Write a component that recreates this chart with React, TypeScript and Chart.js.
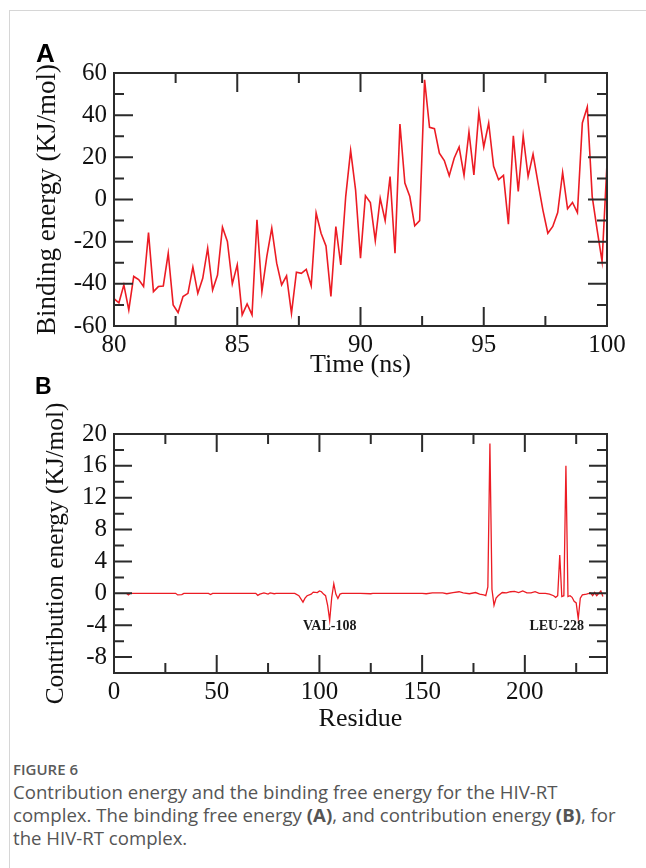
import React, { useEffect, useRef } from "react";
import { Chart, registerables } from "chart.js";

Chart.register(...registerables);

// ---------- Panel A: binding energy vs time ----------
const timeNs = [
  80.0, 80.2, 80.4, 80.6, 80.8, 81.0, 81.2, 81.4, 81.6, 81.8,
  82.0, 82.2, 82.4, 82.6, 82.8, 83.0, 83.2, 83.4, 83.6, 83.8,
  84.0, 84.2, 84.4, 84.6, 84.8, 85.0, 85.2, 85.4, 85.6, 85.8,
  86.0, 86.2, 86.4, 86.6, 86.8, 87.0, 87.2, 87.4, 87.6, 87.8,
  88.0, 88.2, 88.4, 88.6, 88.8, 89.0, 89.2, 89.4, 89.6, 89.8,
  90.0, 90.2, 90.4, 90.6, 90.8, 91.0, 91.2, 91.4, 91.6, 91.8,
  92.0, 92.2, 92.4, 92.6, 92.8, 93.0, 93.2, 93.4, 93.6, 93.8,
  94.0, 94.2, 94.4, 94.6, 94.8, 95.0, 95.2, 95.4, 95.6, 95.8,
  96.0, 96.2, 96.4, 96.6, 96.8, 97.0, 97.2, 97.4, 97.6, 97.8,
  98.0, 98.2, 98.4, 98.6, 98.8, 99.0, 99.2, 99.4, 99.6, 99.8,
  100.0,
];
const bindingEnergy = [
  -47, -49, -40.5, -52.4, -36.5, -38, -41.3, -15.7, -43.7, -41.3,
  -41, -25.5, -50, -53.6, -46, -44.5, -32.1, -44.5, -37.4, -23.1,
  -42.9, -35.8, -13.1, -19.9, -40, -31, -54.7, -49.5, -54.7, -9.6,
  -43.7, -27, -13.6, -30.2, -40.5, -36.2, -54, -34.5, -35, -33.1,
  -40.9, -6.4, -16, -22, -46, -12.8, -31, 1.4, 23.3, 4.6,
  -27.8, 1.8, -1.4, -19.5, 0.6, -10, 10.9, -25.5, 35.8, 7.8,
  1.4, -12.5, -10, 56.8, 34.2, 33.6, 22, 18.5, 11.3, 19.6,
  24.9, 11.4, 32, 11.7, 41.3, 24.9, 36.3, 15.7, 9.4, 11.4,
  -11.7, 30.2, 3.8, 30.2, 10.9, 21.5, 8, -5, -16, -12.8,
  -6.2, 12.8, -4.4, -1.4, -6.2, 36.3, 43.9, 1.4, -14.4, -29.4,
  17,
];
const xTicksA = [80, 85, 90, 95, 100];
const xMinorA = [82.5, 87.5, 92.5, 97.5];
const yTicksA = [-60, -40, -20, 0, 20, 40, 60];
const yMinorA = [-50, -30, -10, 10, 30, 50];

// ---------- Panel B: per-residue contribution energy ----------
const residues = [
  6, 7, 8, 30, 31, 33, 34, 46, 47, 48,
  69, 70, 71, 73, 75, 76, 78, 79, 88, 90,
  92, 93, 94, 96, 97, 99, 100, 101, 102, 103,
  104, 105, 106, 107, 108, 109, 110, 111, 120, 125,
  126, 140, 150, 152, 155, 160, 162, 165, 168, 170,
  173, 176, 178, 180, 181, 182, 183, 184, 185, 186,
  187, 189, 191, 193, 195, 197, 199, 201, 203, 205,
  207, 210, 212, 214, 215, 216, 217, 218, 219, 220,
  221, 222, 223, 224, 225, 226, 227, 228, 230, 232,
  233, 234, 235, 236, 237, 238,
];
const contribution = [
  0, -0.2, 0, 0, -0.2, -0.15, 0, 0, -0.15, 0,
  0, -0.25, -0.1, 0.05, -0.1, 0.05, -0.05, 0, 0, -0.3,
  -1.1, -0.6, -0.3, -0.1, 0.15, 0.1, 0.3, 0.2, -0.1, -0.3,
  -1.5, -3.4, -0.5, 1.2, -0.1, -0.65, -0.1, 0, 0, -0.05,
  0, 0, 0, -0.05, 0.05, 0.05, -0.05, 0.1, 0.2, 0.05,
  -0.05, 0.1, -0.1, -0.2, -0.3, 0.8, 18.8, 0.5, -1.5, -0.6,
  -0.3, 0.1, 0.05, 0.2, 0.25, 0.1, 0.3, 0.05, 0.05, 0.2,
  0, 0, -0.1, -0.3, -0.5, -0.3, 4.8, -0.4, -0.3, 16,
  -0.4, -0.3, -0.5, -1.0, -1.2, -3.2, -0.6, -0.2, -0.1, 0.05,
  -0.3, 0.1, -0.3, 0, 0.3, -0.4,
];
const xTicksB = [0, 50, 100, 150, 200];
const xMinorB = [25, 75, 125, 175, 225];
const yTicksB = [-8, -4, 0, 4, 8, 12, 16, 20];
const yMinorB = [-6, -2, 2, 6, 10, 14, 18];
const residueLabels = ["VAL-108", "LEU-228"];
const residueLabelX = [105, 215.5];
const residueLabelY = [-4.2, -4.2];

const SERIF = "'Liberation Serif', 'Times New Roman', serif";
const RED = "#ec1c24";
const INK = "#111111";

type FrameCfg = {
  xMajor: number[];
  xMinor: number[];
  yMajor: number[];
  yMinor: number[];
  major: number;
  minor: number;
  labels?: string[];
  labelX?: number[];
  labelY?: number[];
};

function makeFramePlugin(cfg: FrameCfg) {
  return {
    id: "frameTicks",
    afterDatasetsDraw(chart: any) {
      const { ctx, chartArea: a } = chart;
      const xs = chart.scales.x;
      const ys = chart.scales.y;
      ctx.save();
      ctx.strokeStyle = "#2b2b2b";
      ctx.lineWidth = 2;
      ctx.beginPath();
      const vx = (vals: number[], len: number) =>
        vals.forEach((v) => {
          const p = xs.getPixelForValue(v);
          ctx.moveTo(p, a.bottom);
          ctx.lineTo(p, a.bottom - len);
          ctx.moveTo(p, a.top);
          ctx.lineTo(p, a.top + len);
        });
      const vy = (vals: number[], len: number) =>
        vals.forEach((v) => {
          const p = ys.getPixelForValue(v);
          ctx.moveTo(a.left, p);
          ctx.lineTo(a.left + len, p);
          ctx.moveTo(a.right, p);
          ctx.lineTo(a.right - len, p);
        });
      vx(cfg.xMajor, cfg.major);
      vx(cfg.xMinor, cfg.minor);
      vy(cfg.yMajor, cfg.major);
      vy(cfg.yMinor, cfg.minor);
      ctx.stroke();
      ctx.strokeRect(a.left, a.top, a.right - a.left, a.bottom - a.top);
      if (cfg.labels && cfg.labelX && cfg.labelY) {
        ctx.fillStyle = "#1a1a1a";
        ctx.font = `bold 14px ${SERIF}`;
        ctx.textAlign = "center";
        ctx.textBaseline = "middle";
        cfg.labels.forEach((t, i) => {
          ctx.fillText(t, xs.getPixelForValue(cfg.labelX![i]), ys.getPixelForValue(cfg.labelY![i]));
        });
      }
      ctx.restore();
    },
  };
}

function buildOptions(p: {
  xMin: number; xMax: number; yMin: number; yMax: number;
  xTicks: number[]; yTicks: number[];
  xTitle: string; yTitle: string;
  yTitleSize: number; yTitlePad: number; xTitlePad: number;
  padTop: number; padRight: number; yWidth: number; xHeight: number;
}) {
  return {
    responsive: false,
    animation: false as const,
    events: [],
    layout: { padding: { left: 0, right: p.padRight, top: p.padTop, bottom: 0 } },
    plugins: { legend: { display: false }, tooltip: { enabled: false }, title: { display: false } },
    scales: {
      x: {
        type: "linear" as const,
        min: p.xMin,
        max: p.xMax,
        grid: { display: false, drawTicks: false },
        border: { display: false },
        afterBuildTicks: (s: any) => { s.ticks = p.xTicks.map((v) => ({ value: v })); },
        afterFit: (s: any) => { s.height = p.xHeight; },
        ticks: { color: INK, font: { family: SERIF, size: 25 }, padding: 4, maxRotation: 0, autoSkip: false },
        title: {
          display: true,
          text: p.xTitle,
          color: INK,
          font: { family: SERIF, size: 26 },
          padding: { top: 0, bottom: p.xTitlePad },
        },
      },
      y: {
        type: "linear" as const,
        min: p.yMin,
        max: p.yMax,
        grid: { display: false, drawTicks: false },
        border: { display: false },
        afterBuildTicks: (s: any) => { s.ticks = p.yTicks.map((v) => ({ value: v })); },
        afterFit: (s: any) => { s.width = p.yWidth; },
        ticks: { color: INK, font: { family: SERIF, size: 25 }, padding: 7, autoSkip: false },
        title: {
          display: true,
          text: p.yTitle,
          color: INK,
          font: { family: SERIF, size: p.yTitleSize },
          padding: { top: p.yTitlePad, bottom: 0 },
        },
      },
    },
  };
}

function PanelA() {
  const ref = useRef<HTMLCanvasElement>(null);
  useEffect(() => {
    const chart = new Chart(ref.current!, {
      type: "line",
      data: {
        datasets: [
          {
            data: timeNs.map((t, i) => ({ x: t, y: bindingEnergy[i] })),
            borderColor: RED,
            borderWidth: 1.6,
            pointRadius: 0,
            tension: 0,
            fill: false,
          },
        ],
      },
      options: buildOptions({
        xMin: 80, xMax: 100, yMin: -60, yMax: 60,
        xTicks: xTicksA, yTicks: yTicksA,
        xTitle: "Time (ns)", yTitle: "Binding energy (KJ/mol)",
        yTitleSize: 27, yTitlePad: 32, xTitlePad: 9,
        padTop: 73, padRight: 39, yWidth: 114, xHeight: 64,
      }) as any,
      plugins: [
        makeFramePlugin({ xMajor: xTicksA, xMinor: xMinorA, yMajor: yTicksA, yMinor: yMinorA, major: 19, minor: 10 }),
      ],
    });
    return () => chart.destroy();
  }, []);
  return (
    <canvas
      ref={ref}
      width={646}
      height={390}
      style={{ position: "absolute", left: 0, top: 0, width: 646, height: 390 }}
    />
  );
}

function PanelB() {
  const ref = useRef<HTMLCanvasElement>(null);
  useEffect(() => {
    const chart = new Chart(ref.current!, {
      type: "line",
      data: {
        datasets: [
          {
            data: residues.map((r, i) => ({ x: r, y: contribution[i] })),
            borderColor: RED,
            borderWidth: 1.3,
            pointRadius: 0,
            tension: 0,
            fill: false,
          },
        ],
      },
      options: buildOptions({
        xMin: 0, xMax: 240, yMin: -10, yMax: 20,
        xTicks: xTicksB, yTicks: yTicksB,
        xTitle: "Residue", yTitle: "Contribution energy (KJ/mol)",
        yTitleSize: 25.3, yTitlePad: 41, xTitlePad: 5,
        padTop: 54, padRight: 39, yWidth: 114, xHeight: 67,
      }) as any,
      plugins: [
        makeFramePlugin({
          xMajor: xTicksB, xMinor: xMinorB, yMajor: yTicksB, yMinor: yMinorB, major: 18, minor: 10,
          labels: residueLabels, labelX: residueLabelX, labelY: residueLabelY,
        }),
      ],
    });
    return () => chart.destroy();
  }, []);
  return (
    <canvas
      ref={ref}
      width={646}
      height={360}
      style={{ position: "absolute", left: 0, top: 380, width: 646, height: 360 }}
    />
  );
}

export default function App() {
  const capFont = "'Open Sans', 'Noto Sans', sans-serif";
  return (
    <div
      style={{
        position: "absolute",
        left: 0,
        top: 0,
        width: 646,
        height: 868,
        background: "#ffffff",
        overflow: "hidden",
      }}
    >
      <div
        style={{
          position: "absolute",
          left: 9,
          top: 10,
          width: 700,
          height: 900,
          borderTop: "1px solid #d6d6d6",
          borderLeft: "1px solid #d6d6d6",
        }}
      />
      <PanelA />
      <PanelB />
      <div
        style={{
          position: "absolute",
          left: 36,
          top: 40,
          fontFamily: "'Liberation Sans', Arial, sans-serif",
          fontWeight: 700,
          fontSize: 26,
          lineHeight: "26px",
          color: "#000",
        }}
      >
        A
      </div>
      <div
        style={{
          position: "absolute",
          left: 35,
          top: 375,
          fontFamily: "'Liberation Sans', Arial, sans-serif",
          fontWeight: 700,
          fontSize: 23,
          lineHeight: "23px",
          color: "#000",
        }}
      >
        B
      </div>
      <div
        style={{
          position: "absolute",
          left: 13,
          top: 759,
          fontFamily: capFont,
          fontSize: 15,
          fontWeight: 600,
          lineHeight: "20px",
          color: "#5a5a5a",
          whiteSpace: "nowrap",
        }}
      >
        FIGURE 6
      </div>
      <div
        style={{
          position: "absolute",
          left: 13,
          top: 780,
          fontFamily: capFont,
          fontSize: 18.6,
          lineHeight: "23px",
          color: "#555555",
          whiteSpace: "nowrap",
        }}
      >
        Contribution energy and the binding free energy for the HIV-RT
        <br />
        complex. The binding free energy <b>(A)</b>, and contribution energy <b>(B)</b>, for
        <br />
        the HIV-RT complex.
      </div>
    </div>
  );
}
